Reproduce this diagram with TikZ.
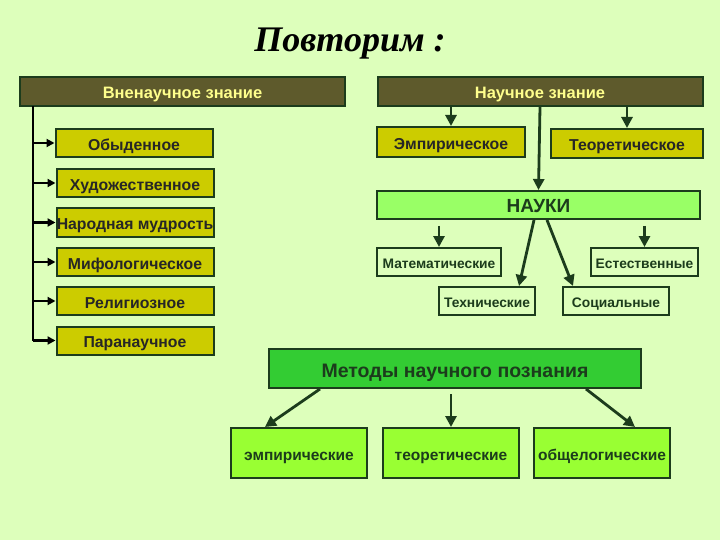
\documentclass[tikz,border=0pt]{standalone}
\usepackage{fontspec}
\setsansfont{Liberation Sans}
\newfontfamily\titlefont{Liberation Serif}
\usepackage{tikz}
\usetikzlibrary{arrows.meta}

\definecolor{bgcol}{RGB}{221,255,187}
\definecolor{olive}{RGB}{94,90,44}
\definecolor{headtext}{RGB}{255,255,140}
\definecolor{boxyellow}{RGB}{204,204,0}
\definecolor{darkline}{RGB}{28,60,28}
\definecolor{naukicol}{RGB}{153,255,102}
\definecolor{methcol}{RGB}{51,204,51}
\definecolor{leafcol}{RGB}{153,255,51}

\begin{document}
\begin{tikzpicture}[x=1pt, y=-1pt,
		head_style/.style={rectangle,draw=darkline,line width=2pt,fill=olive,text=headtext,font=\sffamily\bfseries\fontsize{16.5}{18}\selectfont,minimum width=325pt,minimum height=29pt,inner sep=0pt,text height=14.8pt,text depth=0pt},
		box_style/.style={rectangle,draw=darkline,line width=2pt,fill=boxyellow,text=black!85,font=\sffamily\bfseries\fontsize{15.8}{18}\selectfont,minimum width=157pt,minimum height=28pt,inner sep=0pt,text height=14.4pt,text depth=0pt},
		nauki_style/.style={rectangle,draw=darkline,line width=2pt,fill=naukicol,text=darkline,font=\sffamily\bfseries\fontsize{19}{21}\selectfont,minimum width=323pt,minimum height=28pt,inner sep=0pt,text height=15pt,text depth=0pt},
		sub_style/.style={rectangle,draw=darkline,line width=2pt,fill=bgcol,text=darkline,font=\sffamily\bfseries\fontsize{13.8}{16}\selectfont,minimum height=28pt,inner sep=0pt,text height=12.4pt,text depth=0pt},
		meth_style/.style={rectangle,draw=darkline,line width=2pt,fill=methcol,text=darkline,font=\sffamily\bfseries\fontsize{19.5}{22}\selectfont,minimum width=372pt,minimum height=39pt,inner sep=0pt,text height=17.5pt,text depth=0pt},
		leaf_style/.style={rectangle,draw=darkline,line width=2pt,fill=leafcol,text=darkline,font=\sffamily\bfseries\fontsize{15.5}{18}\selectfont,minimum width=136pt,minimum height=50pt,inner sep=0pt,text height=14pt,text depth=0pt},
		edge_style/.style={draw=darkline,line width=2.8pt,-{Triangle[length=11pt,width=11pt]}},
		left_style/.style={draw=black,line width=2.4pt,-{Triangle[length=8pt,width=8pt]}}]

		\fill[bgcol] (0,0) rectangle (720,540);
		\useasboundingbox (0,0) rectangle (720,540);

		\node[font=\titlefont\bfseries\itshape\fontsize{36}{40}\selectfont] (title) at (350,44) {Повторим :};

		\node[head_style] (head1) at (182.5,91.5) {Вненаучное знание};
		\node[head_style] (head2) at (540,91.5) {Научное знание};

		\node[box_style] (n1) at (134,143) {Обыденное};
		\node[box_style] (n2) at (135,183) {Художественное};
		\node[box_style] (n3) at (135,222.5) {Народная мудрость};
		\node[box_style] (n4) at (135,262) {Мифологическое};
		\node[box_style] (n5) at (135,301) {Религиозное};
		\node[box_style] (n6) at (135,340.5) {Паранаучное};

		\node[box_style,minimum width=148pt,minimum height=30pt] (emp) at (451,142) {Эмпирическое};
		\node[box_style,minimum width=152pt,minimum height=29pt] (teo) at (627,143.5) {Теоретическое};

		\node[nauki_style] (nauki) at (538.5,205) {НАУКИ};
		\node[sub_style,minimum width=124pt] (mat) at (439,262) {Математические};
		\node[sub_style,minimum width=107pt] (est) at (644.5,262) {Естественные};
		\node[sub_style,minimum width=96pt] (tech) at (487,301) {Технические};
		\node[sub_style,minimum width=106pt] (soc) at (616,301) {Социальные};

		\node[meth_style] (meth) at (455,368.5) {Методы научного познания};
		\node[leaf_style] (m1) at (299,453) {эмпирические};
		\node[leaf_style] (m2) at (451,453) {теоретические};
		\node[leaf_style] (m3) at (602,453) {общелогические};

		% left trunk
		\coordinate (trunk) at (33,106);
		\coordinate (trunkend) at (33,340.5);
		\draw[draw=black,line width=2.4pt] (trunk) -- (trunkend);
		\foreach \i in {1,...,6}
			\draw[left_style] (trunk |- n\i.west) -- (n\i.west);

		% scientific knowledge
		\draw[edge_style] (emp.north |- head2.south) -- (emp.north);
		\draw[edge_style] (teo.north |- head2.south) -- (teo.north);
		\draw[edge_style] (head2.south) -- (nauki.north);

		\draw[edge_style,shorten <=6pt] (mat.north |- nauki.south) -- (mat.north);
		\draw[edge_style,shorten <=6pt] (est.north |- nauki.south) -- (est.north);
		\draw[edge_style] ([xshift=-4.5pt]nauki.south) -- ([xshift=32pt]tech.north);
		\draw[edge_style] ([xshift=8.5pt]nauki.south) -- ([xshift=-43pt]soc.north);

		% methods
		\draw[edge_style] ([xshift=52pt]meth.south west) -- ([xshift=-34pt]m1.north);
		\draw[edge_style,shorten <=5pt] (m2.north |- meth.south) -- (m2.north);
		\draw[edge_style] ([xshift=-56pt]meth.south east) -- ([xshift=33pt]m3.north);
\end{tikzpicture}
\end{document}
